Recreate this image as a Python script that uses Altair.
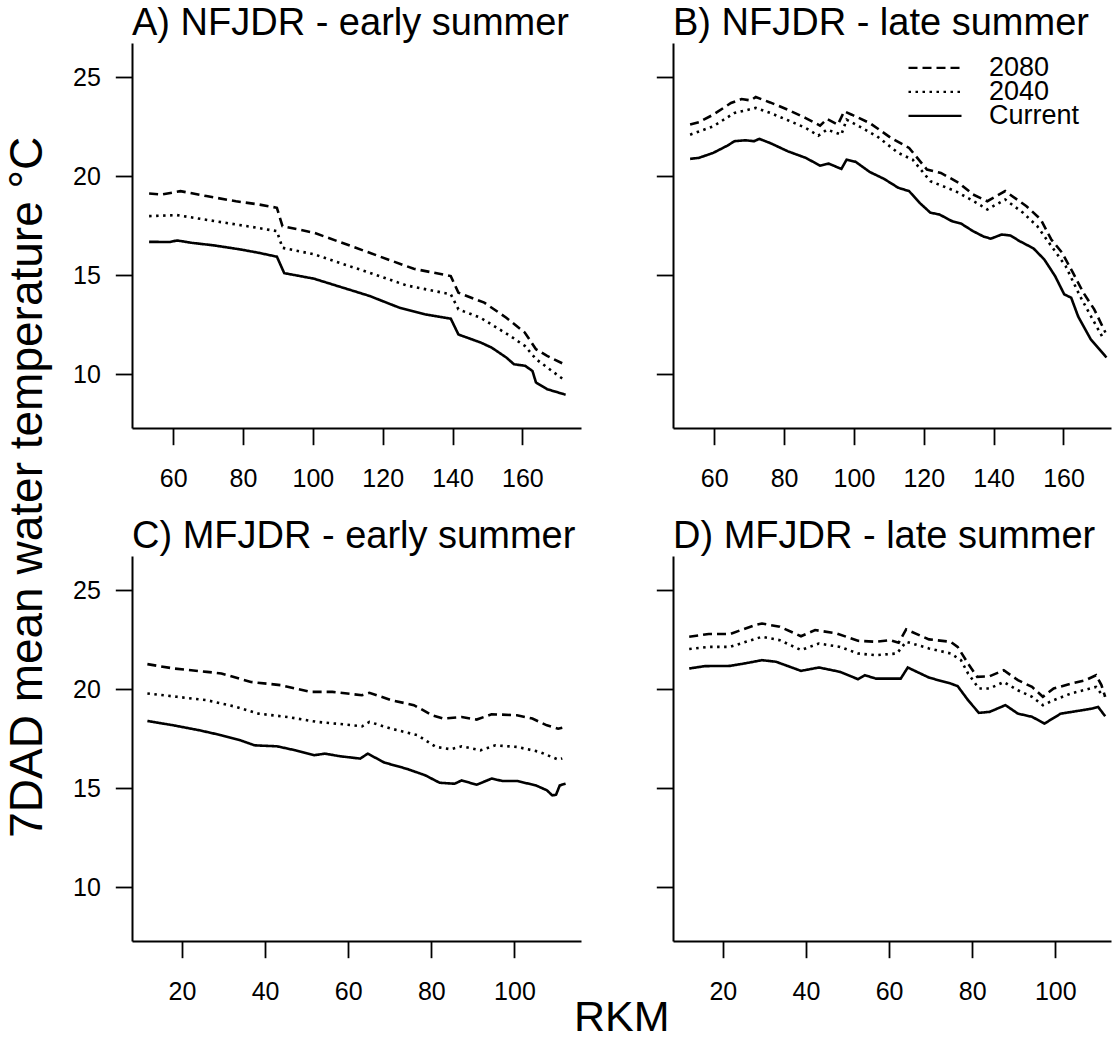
import altair as alt
import pandas as pd

# ---------------- data ----------------
SCEN = ["2080", "2040", "Current"]

# Panel A: NFJDR early summer
A_X_CUR = [53.1, 59, 61.1, 65.3, 71.7, 79.1, 84.4, 89.7, 91.8, 100.3, 105.6, 116.2, 124.7, 132.1, 139.5, 141.7, 148, 151.2, 155.4, 157.6, 160.8, 162.9, 163.9, 167.1, 172.4]
A_Y_CUR = [16.68, 16.67, 16.75, 16.63, 16.5, 16.3, 16.13, 15.93, 15.1, 14.82, 14.53, 13.95, 13.36, 13.02, 12.8, 12.0, 11.6, 11.34, 10.84, 10.5, 10.42, 10.16, 9.58, 9.24, 8.96]
A_X_2040 = [53.1, 61.1, 71.7, 82.3, 89.7, 91.3, 100.3, 116.2, 126.8, 139.5, 141.7, 148, 156.5, 160.7, 163.9, 172]
A_Y_2040 = [17.98, 18.03, 17.73, 17.44, 17.22, 16.38, 16.05, 15.12, 14.48, 14.03, 13.27, 12.85, 11.93, 11.43, 10.76, 9.7]
A_X_2080 = [53.1, 56.8, 62.1, 69.5, 78, 84.4, 89.7, 91.3, 100.3, 110.9, 121.5, 128.9, 139.5, 141.7, 149.1, 155.4, 160.7, 163.9, 167.1, 172]
A_Y_2080 = [19.12, 19.07, 19.24, 18.99, 18.73, 18.57, 18.4, 17.47, 17.14, 16.47, 15.79, 15.32, 14.95, 14.11, 13.61, 12.85, 12.1, 11.26, 10.92, 10.5]

# Panel B: NFJDR late summer
B_X_CUR = [53.1, 55.6, 59.7, 63.8, 65.8, 68.9, 71.4, 72.9, 76, 81.1, 86.2, 90.3, 92.8, 96.4, 97.9, 100.5, 104.5, 108.6, 112.7, 115.8, 118.8, 121.9, 124.5, 128, 130.6, 134.1, 137.2, 139.2, 142.3, 144.8, 147.4, 151.4, 154.5, 157.6, 160.2, 162.2, 164.2, 167.8, 172.3]
B_Y_CUR = [20.87, 20.92, 21.17, 21.54, 21.76, 21.81, 21.76, 21.88, 21.67, 21.25, 20.92, 20.53, 20.63, 20.36, 20.83, 20.72, 20.21, 19.86, 19.41, 19.24, 18.65, 18.15, 18.06, 17.73, 17.61, 17.22, 16.94, 16.84, 17.05, 17.0, 16.72, 16.35, 15.79, 14.95, 14.03, 13.86, 12.91, 11.76, 10.84]
B_X_2040 = [53.1, 59.7, 65.8, 71.9, 76, 81.1, 86.2, 89.8, 92.3, 96.4, 97.9, 101.5, 106.6, 112.7, 116.8, 121.9, 129.1, 135.1, 138.2, 143.3, 148.4, 152.5, 156.5, 160.6, 164.7, 167.8, 171.5]
B_Y_2040 = [22.09, 22.51, 23.19, 23.44, 23.19, 22.82, 22.43, 22.04, 22.35, 22.09, 22.85, 22.51, 22.01, 21.17, 20.83, 19.74, 19.24, 18.65, 18.31, 18.82, 18.15, 17.47, 16.47, 15.46, 13.95, 12.94, 11.76]
B_X_2080 = [53.1, 55.6, 59.7, 64.8, 67.8, 70.4, 71.9, 76, 81.1, 86.2, 90.3, 92.3, 95.4, 97.2, 99.4, 104.5, 110.6, 115.8, 120.9, 124.9, 130, 134.1, 138.2, 143.3, 149.4, 153.5, 156.5, 159.6, 162.7, 165.7, 168.8, 172]
B_Y_2080 = [22.6, 22.72, 23.1, 23.69, 23.89, 23.82, 23.99, 23.72, 23.35, 22.93, 22.55, 22.88, 22.6, 23.27, 23.1, 22.68, 21.93, 21.42, 20.33, 20.16, 19.66, 19.07, 18.73, 19.24, 18.48, 17.81, 16.8, 16.13, 15.12, 14.11, 13.27, 12.1]

# Panel C: MFJDR early summer
C_X_CUR = [11.7, 18, 24.2, 29.5, 34, 37.5, 42.9, 47.3, 51.8, 54.4, 58, 62.9, 64.7, 68.7, 74, 78.5, 82, 85.6, 87.3, 90.9, 94.5, 97.1, 100.6, 105.1, 107.8, 109.1, 110, 110.9, 112.3]
C_Y_CUR = [18.39, 18.17, 17.92, 17.67, 17.42, 17.16, 17.11, 16.91, 16.66, 16.74, 16.61, 16.49, 16.74, 16.29, 15.98, 15.65, 15.27, 15.22, 15.39, 15.17, 15.48, 15.36, 15.36, 15.14, 14.89, 14.63, 14.67, 15.14, 15.22]
C_X_2040 = [11.7, 18.8, 26, 33.1, 38.4, 45.5, 52.6, 58.9, 63.3, 65.1, 70.4, 76.7, 81.1, 84.7, 87.3, 91.8, 95.4, 100.6, 106, 110.5, 111.5]
C_Y_2040 = [19.78, 19.61, 19.44, 19.1, 18.76, 18.59, 18.34, 18.22, 18.12, 18.34, 18.0, 17.67, 17.08, 16.96, 17.11, 16.91, 17.16, 17.08, 16.83, 16.44, 16.5]
C_X_2080 = [11.7, 18, 26, 29.5, 36.6, 43.7, 50.8, 56.2, 63.3, 65.1, 70.4, 75.8, 80.2, 82.9, 87.3, 90.9, 94.5, 100.6, 104.3, 107.8, 110.5, 111.5]
C_Y_2080 = [21.26, 21.04, 20.87, 20.79, 20.36, 20.2, 19.86, 19.86, 19.69, 19.81, 19.44, 19.19, 18.68, 18.51, 18.59, 18.46, 18.73, 18.68, 18.51, 18.17, 18.0, 18.05]

# Panel D: MFJDR late summer
D_X_CUR = [11.9, 15.7, 21.7, 25.1, 29.4, 32.8, 38.8, 43.1, 48.2, 52.5, 54.2, 56.8, 62.8, 64.5, 69.6, 74.8, 76.5, 79, 81.6, 84.2, 88, 91, 94.4, 97.4, 101.3, 106.4, 109, 110.3, 112]
D_Y_CUR = [21.04, 21.16, 21.17, 21.29, 21.46, 21.38, 20.92, 21.09, 20.87, 20.5, 20.7, 20.53, 20.53, 21.09, 20.58, 20.28, 20.15, 19.44, 18.8, 18.85, 19.19, 18.76, 18.6, 18.26, 18.76, 18.93, 19.02, 19.1, 18.63]
D_X_2040 = [11.9, 16.6, 21.7, 29.4, 33.7, 38.8, 43.1, 48.2, 52.5, 56.8, 61.9, 64.1, 69.6, 74.8, 77.3, 79, 81.6, 84.2, 87.6, 91, 94.4, 97, 99.6, 103.8, 109.8, 111.6]
D_Y_2040 = [22.02, 22.13, 22.13, 22.64, 22.47, 21.97, 22.3, 22.13, 21.8, 21.71, 21.8, 22.39, 22.05, 21.8, 21.46, 20.79, 20.03, 20.03, 20.36, 19.94, 19.61, 19.19, 19.44, 19.78, 20.11, 19.61]
D_X_2080 = [11.9, 16.6, 21.7, 27.7, 29.4, 33.7, 38.8, 42.2, 47.4, 52.5, 56.8, 60.2, 62.3, 64.1, 69.6, 74.8, 76.5, 79, 81.2, 84.2, 87.6, 91, 94.4, 97, 99.6, 103.8, 107.3, 109.8, 111.1, 112]
D_Y_2080 = [22.64, 22.78, 22.78, 23.23, 23.31, 23.15, 22.67, 22.98, 22.81, 22.44, 22.39, 22.47, 22.34, 23.01, 22.51, 22.39, 22.13, 21.29, 20.62, 20.65, 20.95, 20.45, 20.11, 19.61, 20.03, 20.28, 20.45, 20.7, 20.2, 19.61]

TITLES = ["A) NFJDR - early summer", "B) NFJDR - late summer",
          "C) MFJDR - early summer", "D) MFJDR - late summer"]
NF_TICKS = [60, 80, 100, 120, 140, 160]
MF_TICKS = [20, 40, 60, 80, 100]
Y_TICKS = [10, 15, 20, 25]
Y_TITLE = "7DAD mean water temperature \u00b0C"
X_TITLE = "RKM"

FONT = "Liberation Sans"


def frame(xc, yc, x40, y40, x80, y80):
    rows = []
    for name, xs, ys in (("Current", xc, yc), ("2040", x40, y40), ("2080", x80, y80)):
        for a, b in zip(xs, ys):
            rows.append({"rkm": a, "temp": b, "scenario": name})
    return pd.DataFrame(rows)


def panel(df, title, xdom, xticks, width, ylabels, legend):
    return alt.Chart(df).mark_line(color="black", strokeWidth=2.6).encode(
        x=alt.X("rkm:Q",
                scale=alt.Scale(domain=xdom, nice=False, zero=False),
                axis=alt.Axis(values=xticks, title=None, labelPadding=22)),
        y=alt.Y("temp:Q",
                scale=alt.Scale(domain=[7.28, 26.72], nice=False, zero=False),
                axis=alt.Axis(values=Y_TICKS, title=None, labels=ylabels, labelPadding=15)),
        strokeDash=alt.StrokeDash(
            "scenario:N",
            scale=alt.Scale(domain=SCEN, range=[[9, 5], [2.5, 4.5], [1, 0]]),
            legend=legend),
    ).properties(
        width=width, height=385,
        title=alt.TitleParams(title, anchor="start", frame="group", fontSize=38,
                              font=FONT, fontWeight="normal", color="black",
                              baseline="alphabetic", offset=-30),
    )


leg = alt.Legend(orient="none", legendX=234, legendY=16, title=None,
                 symbolType="stroke", symbolSize=2809, symbolStrokeWidth=2.4,
                 symbolStrokeColor="black", labelFontSize=27, labelFont=FONT,
                 labelColor="black", labelOffset=26, clipHeight=17.8,
                 rowPadding=-4, padding=0)

pA = panel(frame(A_X_CUR, A_Y_CUR, A_X_2040, A_Y_2040, A_X_2080, A_Y_2080),
           TITLES[0], [48.2, 176.8], NF_TICKS, 449, True, None)
pB = panel(frame(B_X_CUR, B_Y_CUR, B_X_2040, B_Y_2040, B_X_2080, B_Y_2080),
           TITLES[1], [48.2, 173.6], NF_TICKS, 438, False, leg)
pC = panel(frame(C_X_CUR, C_Y_CUR, C_X_2040, C_Y_2040, C_X_2080, C_Y_2080),
           TITLES[2], [8, 116], MF_TICKS, 449, True, None)
pD = panel(frame(D_X_CUR, D_Y_CUR, D_X_2040, D_Y_2040, D_X_2080, D_Y_2080),
           TITLES[3], [8, 113.4], MF_TICKS, 438, False, None)

row1 = alt.hconcat(pA, pB, spacing=74).resolve_scale(strokeDash="independent").resolve_legend(strokeDash="independent")
row2 = alt.hconcat(pC, pD, spacing=74,
                   title=alt.TitleParams(X_TITLE, orient="bottom", anchor="middle",
                                         fontSize=43, font=FONT, fontWeight="normal",
                                         color="black", baseline="alphabetic",
                                         offset=26, dx=30)
                   ).resolve_scale(strokeDash="independent").resolve_legend(strokeDash="independent")

chart = alt.vconcat(
    row1, row2, spacing=26,
    title=alt.TitleParams(Y_TITLE, orient="left", anchor="middle", fontSize=46,
                          font=FONT, fontWeight="normal", color="black",
                          baseline="alphabetic", offset=-16, dx=35),
).resolve_scale(strokeDash="independent").resolve_legend(strokeDash="independent").properties(
    padding={"left": 5, "top": 5, "right": 0, "bottom": 0},
    background="white",
).configure_view(stroke=None).configure_axis(
    grid=False, domainColor="black", domainWidth=2, tickColor="black", tickWidth=1.8,
    tickSize=16.7, labelFontSize=25, labelFont=FONT, labelColor="black",
    labelFlush=False, labelOverlap=False,
)

chart.save("out.html", embed_options={"renderer": "svg", "actions": False})
